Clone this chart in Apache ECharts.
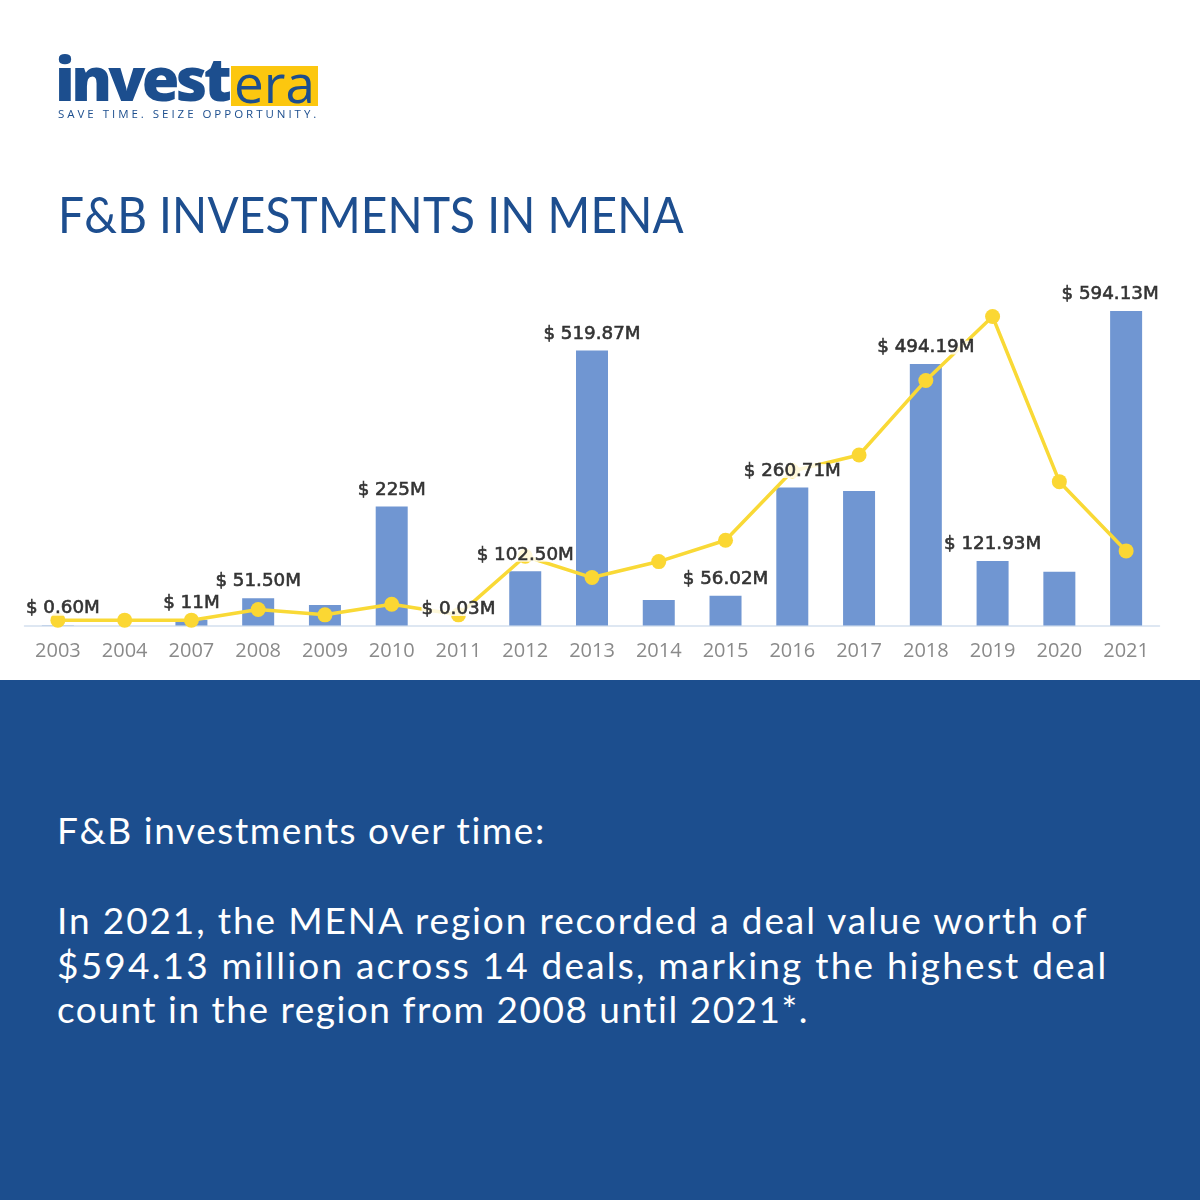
<!DOCTYPE html>
<html><head><meta charset="utf-8">
<script src="https://cdn.jsdelivr.net/npm/echarts@6/dist/echarts.min.js"></script>
<style>
html,body{margin:0;padding:0;background:#fff;width:1200px;height:1200px;overflow:hidden}
#chart{position:absolute;left:0;top:0;width:1200px;height:680px}
#panel{position:absolute;left:0;top:680px;width:1200px;height:520px;background:#1c4e8e}
.t{position:absolute;white-space:pre;font-family:Lato,sans-serif}
#title{left:58px;top:184px;font-size:50px;line-height:60px;color:#1d4e8f;letter-spacing:.2px;transform:scaleX(.92);transform-origin:0 0}
.body{left:57px;color:#fff;font-size:37px;line-height:45px}
#invest{left:55px;top:43px;font-size:61px;line-height:70px;font-weight:800;color:#1c4e8e;letter-spacing:-3.7px;font-family:"Open Sans",Lato,sans-serif}
#era{left:231px;top:66px;width:87px;height:40px;background:#fcc70f;color:#1c4e8e;font-size:53px;line-height:34px;font-family:"Open Sans",sans-serif;font-weight:400;text-align:center}
#tag{left:58px;top:106px;font-size:11.5px;line-height:16px;color:#1c4e8e;letter-spacing:2.97px;font-family:"Open Sans",sans-serif}
</style></head>
<body>
<div id="panel"></div>
<div id="chart"></div>
<div class="t" id="era">era</div>
<div class="t" id="invest">invest</div>
<div class="t" id="tag">SAVE TIME. SEIZE OPPORTUNITY.</div>
<div class="t" id="title">F&amp;B INVESTMENTS IN MENA</div>
<div class="t body" style="top:807px;letter-spacing:1.55px">F&amp;B investments over time:</div>
<div class="t body" style="top:897px;letter-spacing:1.88px">In 2021, the MENA region recorded a deal value worth of</div>
<div class="t body" style="top:942px;letter-spacing:2.2px">$594.13 million across 14 deals, marking the highest deal</div>
<div class="t body" style="top:986px;letter-spacing:1.5px">count in the region from 2008 until 2021*.</div>
<script>
var years = ['2003','2004','2007','2008','2009','2010','2011','2012','2013','2014','2015','2016','2017','2018','2019','2020','2021'];
var dealValue = [0.6,0,11,51.5,38.7,225,0.03,102.5,519.87,48,56.02,260.71,254,494.19,121.93,101.6,594.13];
var dealCount = [1,1,1,3,2,4,2,13,9,12,16,29,32,46,58,27,14];
var valueLabels = ['$ 0.60M','','$ 11M','$ 51.50M','','$ 225M','$ 0.03M','$ 102.50M','$ 519.87M','','$ 56.02M','$ 260.71M','','$ 494.19M','$ 121.93M','','$ 594.13M'];

var chart = echarts.init(document.getElementById('chart'));
chart.setOption({
  animation:false,
  backgroundColor:'transparent',
  grid:{left:24.5,width:1135,top:308,height:317.5},
  xAxis:{type:'category',data:years,
    axisLine:{lineStyle:{color:'#d3dfee',width:1.5}},
    axisTick:{show:false},
    axisLabel:{color:'#8a8a8a',fontSize:20,margin:16,fontFamily:'"Open Sans",sans-serif'}},
  yAxis:[
    {type:'value',min:0,max:600,show:false,splitLine:{show:false}},
    {type:'value',min:0,max:59.6,show:false,splitLine:{show:false}}
  ],
  series:[
    {name:'Deal value',type:'bar',data:dealValue,barWidth:32,itemStyle:{color:'#7096d2'},z:2},
    {name:'Deal count',type:'line',yAxisIndex:1,data:dealCount,symbol:'circle',symbolSize:15,showAllSymbol:true,
      lineStyle:{color:'#f9d936',width:3.5},itemStyle:{color:'#fbd733'},z:3},
    {name:'Labels',type:'scatter',symbolSize:0,z:10,silent:true,itemStyle:{opacity:1},
      data:dealValue.map(function(v,i){
        var shift = i===0 ? 5 : (i===dealValue.length-1 ? -16 : 0);
        var blank = !valueLabels[i];
        return {value:v,label:{offset:[shift,0],show:!blank}};
      }),
      label:{show:true,position:'top',distance:9.5,opacity:1,
        formatter:function(p){return valueLabels[p.dataIndex];},
        color:'#333',fontSize:18.3,lineHeight:14,fontWeight:'normal',fontFamily:'"DejaVu Sans",sans-serif',
        textBorderColor:'#333',textBorderWidth:0.6,
        backgroundColor:'rgba(255,255,255,0.82)',padding:[0,0,0,0]}}
  ]
});
</script>
</body></html>
